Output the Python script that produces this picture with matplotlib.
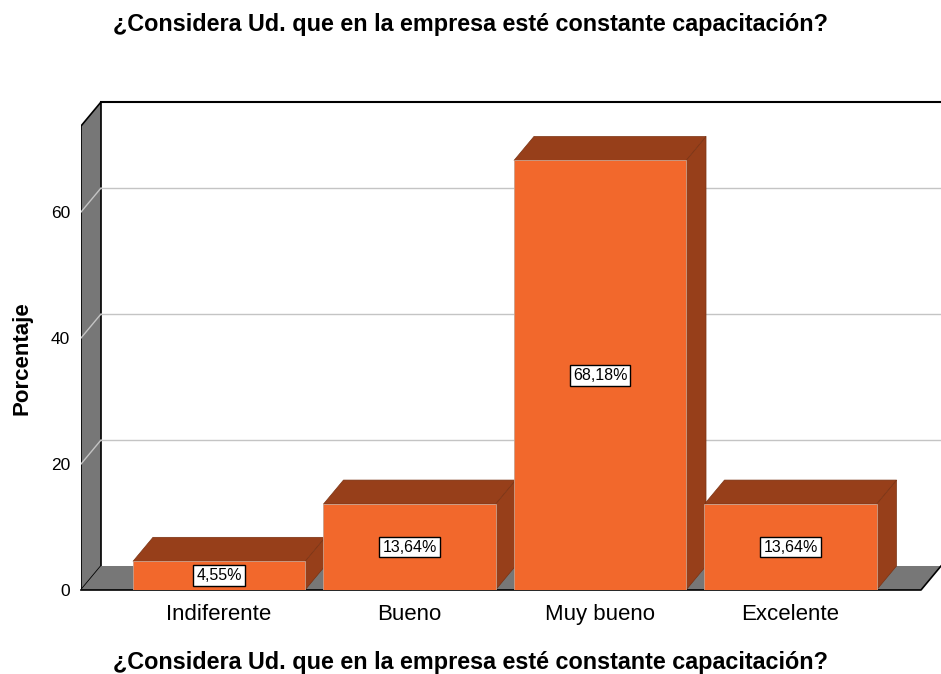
import numpy as np
import matplotlib
matplotlib.use("Agg")
import matplotlib.pyplot as plt
from matplotlib.patches import Polygon

plt.rcParams['font.family'] = ['Liberation Sans', 'DejaVu Sans']

# Datos
categorias = ["Indiferente", "Bueno", "Muy bueno", "Excelente"]
porcentajes = [4.55, 13.64, 68.18, 13.64]
etiquetas = ["4,55%", "13,64%", "68,18%", "13,64%"]
ticks_y = [0, 20, 40, 60]
titulo = "¿Considera Ud. que en la empresa esté constante capacitación?"

# Estilo
c_frente = "#F2682C"
c_lado = "#973F1A"
c_pared = "#777777"
c_grid = "#C4C4C4"

# Geometria 3D (en unidades de datos)
dx, dy = 0.105, 3.81
media = 0.4515
x0, x1 = -0.7244, 3.79
y_top = 77.46

fig = plt.figure(figsize=(9.41, 6.74), dpi=100)
ax = fig.add_axes([81 / 941, 84 / 674, 860 / 941, 488 / 674])
ax.set_xlim(x0, x1)
ax.set_ylim(0, y_top)
for s in ax.spines.values():
    s.set_visible(False)

# paredes
pared_izq = Polygon([(x0, 0), (x0 + dx, dy), (x0 + dx, y_top), (x0, y_top - dy)],
                    closed=True, facecolor=c_pared, edgecolor="black", lw=1.2, zorder=1)
ax.add_patch(pared_izq)
piso = Polygon([(x0, 0), (x0 + dx, dy), (x1, dy), (x1 - dx, 0)],
               closed=True, facecolor=c_pared, edgecolor="none", zorder=1)
ax.add_patch(piso)
ax.plot([x0, x1 - dx, x1], [0, 0, dy], color="black", lw=1.2, zorder=2, clip_on=False)
ax.plot([x0 + dx, x1], [y_top, y_top], color="black", lw=1.5, zorder=2, clip_on=False)

# lineas de cuadricula
for t in ticks_y[1:]:
    ax.plot([x0 + dx, x1], [t + dy, t + dy], color=c_grid, lw=1, zorder=1.5)
    ax.plot([x0, x0 + dx], [t, t + dy], color=c_grid, lw=1, zorder=1.5)

# barras
for i, v in enumerate(porcentajes):
    xa, xb = i - media, i + media
    lado = Polygon([(xb, 0), (xb + dx, dy), (xb + dx, v + dy), (xb, v)],
                   closed=True, facecolor=c_lado, edgecolor="#7a3314", lw=0.5, zorder=3)
    techo = Polygon([(xa, v), (xa + dx, v + dy), (xb + dx, v + dy), (xb, v)],
                    closed=True, facecolor=c_lado, edgecolor="#7a3314", lw=0.5, zorder=3)
    frente = Polygon([(xa, 0), (xa, v), (xb, v), (xb, 0)],
                     closed=True, facecolor=c_frente, edgecolor="#c9a08c", lw=0.6, zorder=4)
    ax.add_patch(lado)
    ax.add_patch(techo)
    ax.add_patch(frente)
    ax.text(i, v / 2, etiquetas[i], ha="center", va="center", fontsize=11.5, zorder=5,
            bbox=dict(boxstyle="square,pad=0.18", facecolor="white", edgecolor="black", lw=1))

ax.set_xticks(range(len(categorias)))
ax.set_xticklabels(categorias, fontsize=16)
ax.set_yticks(ticks_y)
ax.set_yticklabels([str(t) for t in ticks_y], fontsize=12.5)
ax.tick_params(axis="both", length=0)
ax.tick_params(axis="x", pad=10)
ax.tick_params(axis="y", pad=8)

fig.text(0.5, 1 - 24 / 674, titulo, ha="center", va="center", fontsize=16.8, fontweight="bold")
fig.text(0.5, 1 - 662 / 674, titulo, ha="center", va="center", fontsize=16.8, fontweight="bold")
fig.text(22 / 941, 1 - 358 / 674, "Porcentaje", ha="center", va="center", rotation=90,
         fontsize=16, fontweight="bold")

fig.savefig("out.png", dpi=100)
